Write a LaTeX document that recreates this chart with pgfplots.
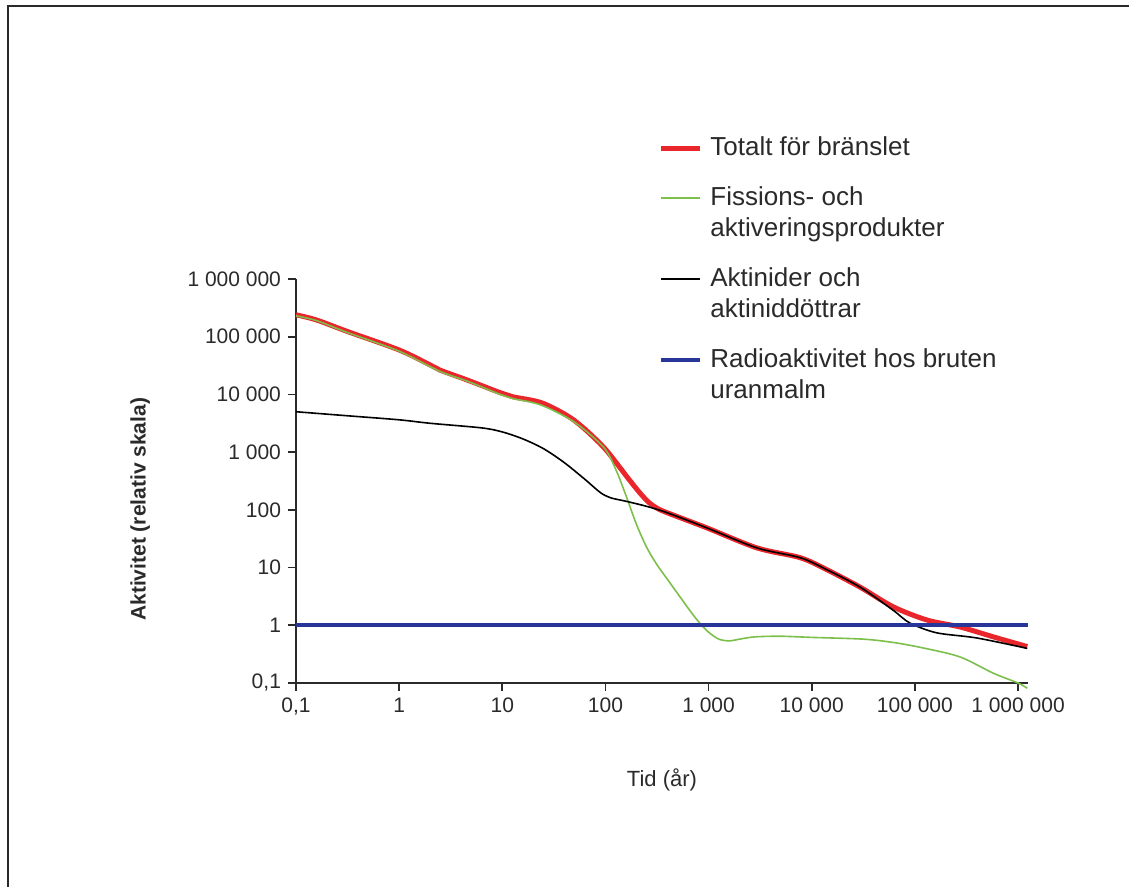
\documentclass[border=0pt]{standalone}
\usepackage{fontspec}
\setmainfont{Liberation Sans}
\usepackage{pgfplots}
\pgfplotsset{compat=1.18}
\definecolor{cred}{HTML}{E8262B}
\definecolor{cgreen}{HTML}{7CBF4A}
\definecolor{cblue}{HTML}{28369A}
\definecolor{ctext}{HTML}{2A2A2A}
\begin{document}
\begin{tikzpicture}
\useasboundingbox (0pt,0pt) rectangle (564.5pt,443.5pt);
\draw[line width=1.1pt, color=ctext] (4pt,0pt) -- (4pt,440.5pt) -- (564.5pt,440.5pt);
\begin{axis}[
  at={(148pt,102pt)}, anchor=south west,
  scale only axis, width=366pt, height=202pt,
  xmode=log, ymode=log,
  xmin=0.1, xmax=1.25e6, ymin=0.1, ymax=1e6,
  clip=false,
  axis x line*=bottom, axis y line*=left,
  axis line style={line width=0.9pt, color=ctext, -},
  xtick={0.1,1,10,100,1000,10000,100000,1000000},
  xticklabels={{0,1},1,10,100,{1 000},{10 000},{100 000},{1 000 000}},
  ytick={0.1,1,10,100,1000,10000,100000,1000000},
  yticklabels={{0,1},1,10,100,{1 000},{10 000},{100 000},{1 000 000}},
  xminorticks=false, yminorticks=false,
  tick align=outside, major tick length=4pt,
  tick style={line width=0.9pt, color=ctext},
  tick label style={font=\fontsize{10.5}{12}\selectfont, color=ctext},
  xlabel={Tid (år)},
  xlabel style={font=\fontsize{11}{13}\selectfont, color=ctext, at={(axis description cs:0.5,-0.240)}, anchor=center},
  ylabel={\bfseries Aktivitet (relativ skala)},
  ylabel style={font=\fontsize{10.5}{12.5}\selectfont, color=ctext, at={(axis description cs:-0.213,0.43)}, anchor=center},
  legend style={at={(axis description cs:0.4945,1.361)}, anchor=north west, draw=none, fill=none, inner sep=0pt, row sep=9.5pt, column sep=4pt, nodes={inner sep=0pt, text depth=}, cells={anchor=base west}, font=\fontsize{13}{15.5}\selectfont, text=ctext},
  legend image code/.code={\draw[#1] (0pt,0.35em) -- (19.5pt,0.35em);},
]
\addplot[color=cred, line width=2.5pt, smooth] coordinates {
(0.1,239883) (0.158,195000) (0.316,123000) (1,58884) (2,32359) (2.5,26303) (4.57,17783) (9.55,10715) (12.6,9120) (24.5,7079) (49,3631) (95.5,1230) (162,372) (214,200) (263,135) (316,107) (398,89) (955,49) (2951,21.9) (7762,14.8) (14125,9.12) (29512,4.57) (61660,2.09) (131826,1.23) (275423,0.933) (575440,0.631) (1.23e6,0.427)
};
\addlegendentry{\strut Totalt för bränslet}
\addplot[color=cgreen, line width=0.8pt, smooth] coordinates {
(0.1,230000) (0.158,190000) (0.316,118000) (1,56000) (2.5,25000) (4.57,17000) (9.55,10000) (12.6,8500) (23.4,6600) (49,3400) (95.5,1230) (126,501) (158,178) (200,56) (251,22.4) (316,11.2) (398,6.3) (501,3.55) (631,2.0) (794,1.17) (1000,0.76) (1259,0.575) (1585,0.537) (1995,0.575) (2818,0.63) (5012,0.646) (10000,0.617) (31623,0.575) (63096,0.501) (125893,0.398) (275423,0.282) (575440,0.148) (1e6,0.1) (1.23e6,0.081)
};
\addlegendentry{\vtop{\hbox{\strut Fissions- och}\hbox{\strut aktiveringsprodukter}}}
\addplot[color=black, line width=0.8pt, smooth] coordinates {
(0.1,5012) (0.316,4266) (1,3631) (2,3162) (6.31,2630) (10,2239) (15.8,1698) (25.1,1148) (39.8,661) (63.1,339) (89.1,200) (112,162) (158,141) (251,115) (398,89) (955,49) (2951,21.9) (7762,14.8) (14125,9.12) (29512,4.57) (61660,1.82) (89125,1.10) (162181,0.741) (398107,0.603) (1.23e6,0.398)
};
\addlegendentry{\vtop{\hbox{\strut Aktinider och}\hbox{\strut aktiniddöttrar}}}
\addplot[color=cblue, line width=2pt] coordinates {(0.1,1) (1.25e6,1)};
\addlegendentry{\vtop{\hbox{\strut Radioaktivitet hos bruten}\hbox{\strut uranmalm}}}
\end{axis}
\end{tikzpicture}
\end{document}
